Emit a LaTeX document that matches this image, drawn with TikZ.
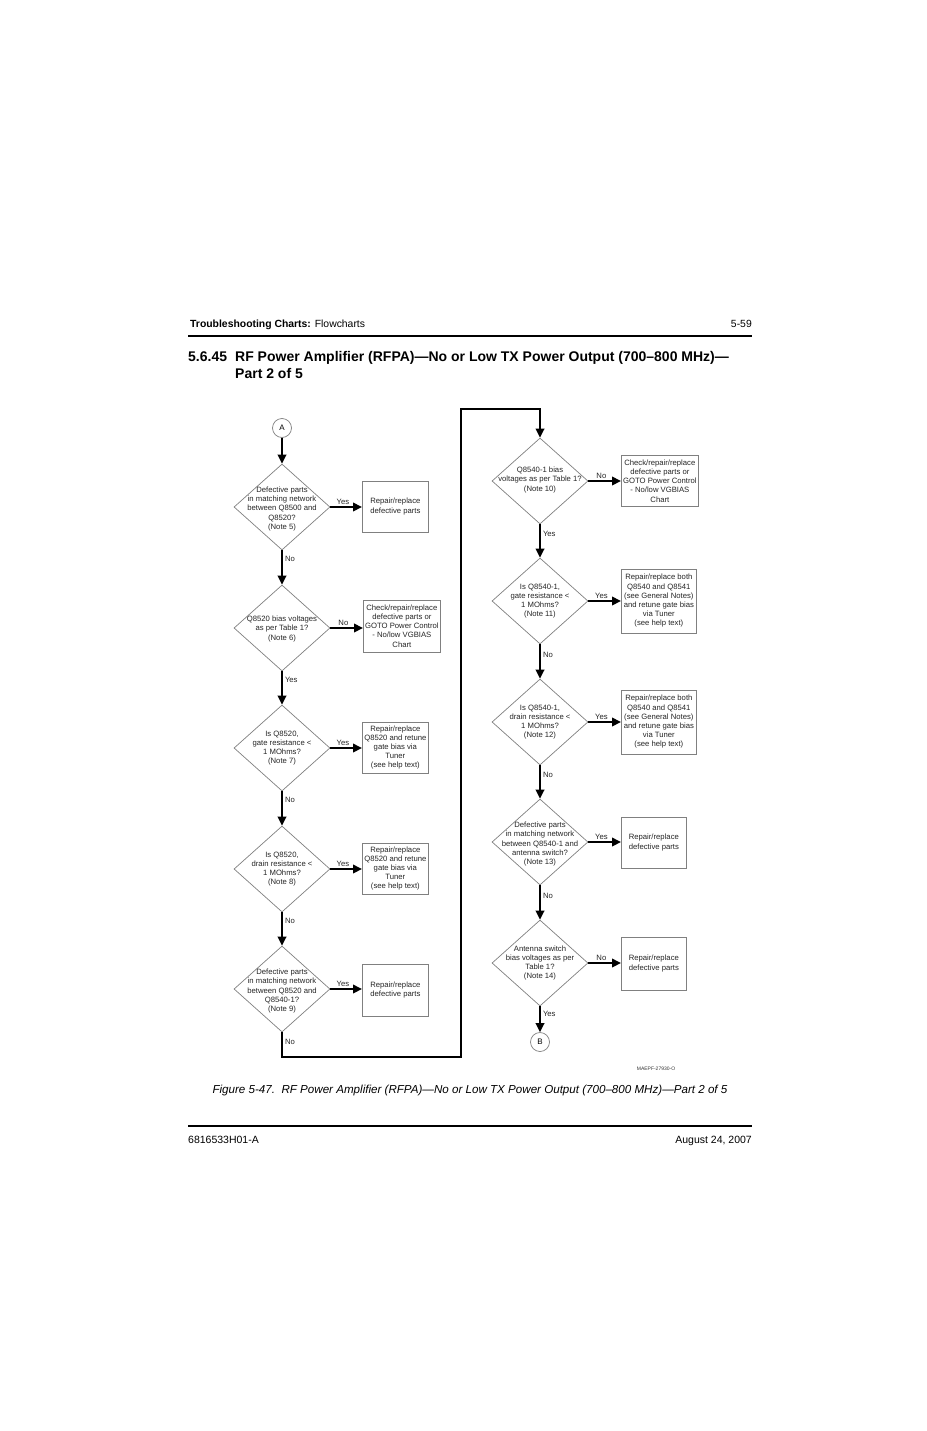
\documentclass[tikz,border=0pt]{standalone}
\usepackage{fontspec}
\setmainfont{Liberation Sans}
\usetikzlibrary{shapes.geometric,arrows.meta}
\begin{document}
\begin{tikzpicture}[x=1pt,y=-1pt,
  dia/.style={diamond, draw=black!50, line width=0.7pt, minimum width=96pt, minimum height=86pt, inner sep=0pt},
  dtext/.style={align=center, font=\fontsize{7.7}{9.2}\selectfont, inner sep=0pt, text=black!85},
  box/.style={draw=black!50, line width=0.7pt, align=center, font=\fontsize{7.7}{9.2}\selectfont, inner sep=0pt, anchor=west, text=black!85},
  conn/.style={circle, draw=black!50, line width=0.7pt, minimum size=19pt, inner sep=0pt, font=\fontsize{8}{9}\selectfont},
  arr/.style={line width=2pt, -{Triangle[length=9pt,width=8.5pt]}},
  lab/.style={font=\fontsize{7.7}{9}\selectfont, inner sep=1pt, text=black!85},
  rule/.style={line width=1.8pt}
]
\useasboundingbox (0,0) rectangle (926,1431);
\fill[white] (0,0) rectangle (926,1431);

% header
\node[anchor=base west, inner sep=0pt, font=\fontsize{10.4}{12}\selectfont] (hdr) at (190,327) {\textbf{Troubleshooting Charts:} Flowcharts};
\node[anchor=base east, inner sep=0pt, font=\fontsize{10.4}{12}\selectfont] (pg) at (752,327) {5-59};
\draw[rule] (188,336) -- (752,336);
\node[anchor=base west, inner sep=0pt, font=\fontsize{14}{16}\selectfont\bfseries] (ttl1) at (188,361) {5.6.45};
\node[anchor=base west, inner sep=0pt, font=\fontsize{14}{16}\selectfont\bfseries] (ttl2) at (235,361) {RF Power Amplifier (RFPA)---No or Low TX Power Output (700--800 MHz)---};
\node[anchor=base west, inner sep=0pt, font=\fontsize{14}{16}\selectfont\bfseries] (ttl3) at (235,378) {Part 2 of 5};

% left column
\node[conn] (ca) at (282,428) {A};
\node[dia] (d1) at (282,507) {};
\node[dtext] (t1) at (282,509) {Defective parts\\in matching network\\between Q8500 and\\Q8520?\\(Note 5)};
\node[dia] (d2) at (282,628) {};
\node[dtext] (t2) at (282,629) {Q8520 bias voltages\\as per Table 1?\\(Note 6)};
\node[dia] (d3) at (282,748) {};
\node[dtext] (t3) at (282,748) {Is Q8520,\\gate resistance <\\1 MOhms?\\(Note 7)};
\node[dia] (d4) at (282,869) {};
\node[dtext] (t4) at (282,869) {Is Q8520,\\drain resistance <\\1 MOhms?\\(Note 8)};
\node[dia] (d5) at (282,989) {};
\node[dtext] (t5) at (282,991) {Defective parts\\in matching network\\between Q8520 and\\Q8540-1?\\(Note 9)};

\node[box, minimum width=66pt, minimum height=51pt] (b1) at (362,506.5) {Repair/replace\\defective parts};
\node[box, minimum width=77pt, minimum height=52pt] (b2) at (363,626) {Check/repair/replace\\defective parts or\\GOTO Power Control\\- No/low VGBIAS\\Chart};
\node[box, minimum width=66pt, minimum height=51pt] (b3) at (362,747.5) {Repair/replace\\Q8520 and retune\\gate bias via\\Tuner\\(see help text)};
\node[box, minimum width=66pt, minimum height=51pt] (b4) at (362,868.5) {Repair/replace\\Q8520 and retune\\gate bias via\\Tuner\\(see help text)};
\node[box, minimum width=66pt, minimum height=52pt] (b5) at (362,990) {Repair/replace\\defective parts};

% right column
\node[dia] (d6) at (540,481) {};
\node[dtext] (t6) at (540,480) {Q8540-1 bias\\voltages as per Table 1?\\(Note 10)};
\node[dia] (d7) at (540,601) {};
\node[dtext] (t7) at (540,601) {Is Q8540-1,\\gate resistance <\\1 MOhms?\\(Note 11)};
\node[dia] (d8) at (540,722) {};
\node[dtext] (t8) at (540,722) {Is Q8540-1,\\drain resistance <\\1 MOhms?\\(Note 12)};
\node[dia] (d9) at (540,842) {};
\node[dtext] (t9) at (540,844) {Defective parts\\in matching network\\between Q8540-1 and\\antenna switch?\\(Note 13)};
\node[dia] (d10) at (540,963) {};
\node[dtext] (t10) at (540,963) {Antenna switch\\bias voltages as per\\Table 1?\\(Note 14)};
\node[conn] (cb) at (540,1042) {B};

\node[box, minimum width=77pt, minimum height=51pt] (b6) at (621,481) {Check/repair/replace\\defective parts or\\GOTO Power Control\\- No/low VGBIAS\\Chart};
\node[box, minimum width=75pt, minimum height=64pt] (b7) at (621,601) {Repair/replace both\\Q8540 and Q8541\\(see General Notes)\\and retune gate bias\\via Tuner\\(see help text)};
\node[box, minimum width=75pt, minimum height=64pt] (b8) at (621,722) {Repair/replace both\\Q8540 and Q8541\\(see General Notes)\\and retune gate bias\\via Tuner\\(see help text)};
\node[box, minimum width=65pt, minimum height=51pt] (b9) at (621,842.5) {Repair/replace\\defective parts};
\node[box, minimum width=65pt, minimum height=53pt] (b10) at (621,963.5) {Repair/replace\\defective parts};

% connectors left
\draw[arr] (ca) -- (d1.north);
\draw[arr] (d1.east) -- node[lab, above, pos=0.4]{Yes} (d1.east -| b1.west);
\draw[arr] (d1.south) -- node[lab, right, pos=0.25, xshift=1pt]{No} (d2.north);
\draw[arr] (d2.east) -- node[lab, above, pos=0.4]{No} (d2.east -| b2.west);
\draw[arr] (d2.south) -- node[lab, right, pos=0.25, xshift=1pt]{Yes} (d3.north);
\draw[arr] (d3.east) -- node[lab, above, pos=0.4]{Yes} (d3.east -| b3.west);
\draw[arr] (d3.south) -- node[lab, right, pos=0.25, xshift=1pt]{No} (d4.north);
\draw[arr] (d4.east) -- node[lab, above, pos=0.4]{Yes} (d4.east -| b4.west);
\draw[arr] (d4.south) -- node[lab, right, pos=0.25, xshift=1pt]{No} (d5.north);
\draw[arr] (d5.east) -- node[lab, above, pos=0.4]{Yes} (d5.east -| b5.west);

% join
\coordinate (j1) at (461,1057);
\coordinate (j2) at (461,409);
\draw[arr] (d5.south) |- node[lab, right, pos=0.2, xshift=1pt]{No} (j1) -- (j2) -| (d6.north);

% connectors right
\draw[arr] (d6.east) -- node[lab, above, pos=0.4]{No} (d6.east -| b6.west);
\draw[arr] (d6.south) -- node[lab, right, pos=0.3, xshift=1pt]{Yes} (d7.north);
\draw[arr] (d7.east) -- node[lab, above, pos=0.4]{Yes} (d7.east -| b7.west);
\draw[arr] (d7.south) -- node[lab, right, pos=0.3, xshift=1pt]{No} (d8.north);
\draw[arr] (d8.east) -- node[lab, above, pos=0.4]{Yes} (d8.east -| b8.west);
\draw[arr] (d8.south) -- node[lab, right, pos=0.3, xshift=1pt]{No} (d9.north);
\draw[arr] (d9.east) -- node[lab, above, pos=0.4]{Yes} (d9.east -| b9.west);
\draw[arr] (d9.south) -- node[lab, right, pos=0.3, xshift=1pt]{No} (d10.north);
\draw[arr] (d10.east) -- node[lab, above, pos=0.4]{No} (d10.east -| b10.west);
\draw[arr] (d10.south) -- node[lab, right, pos=0.3, xshift=1pt]{Yes} (cb);

\node[inner sep=0pt, font=\fontsize{5}{6}\selectfont, text=black!80] (id) at (656,1069) {MAEPF-27930-O};

% caption & footer
\node[anchor=base, inner sep=0pt, font=\fontsize{11.6}{13}\selectfont\itshape] (cap) at (470,1093) {Figure 5-47.\ \ RF Power Amplifier (RFPA)---No or Low TX Power Output (700--800 MHz)---Part 2 of 5};
\draw[rule] (188,1126) -- (752,1126);
\node[anchor=base west, inner sep=0pt, font=\fontsize{10.5}{12}\selectfont] (f1) at (188,1143) {6816533H01-A};
\node[anchor=base east, inner sep=0pt, font=\fontsize{10.5}{12}\selectfont] (f2) at (752,1143) {August 24, 2007};
\end{tikzpicture}
\end{document}
